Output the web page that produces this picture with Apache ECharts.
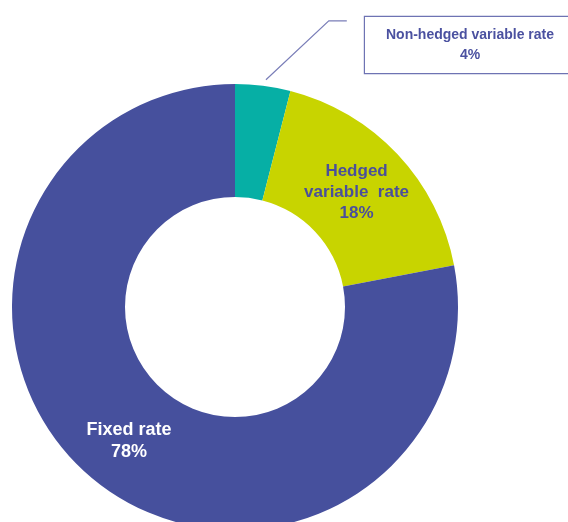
<!DOCTYPE html>
<html>
<head>
<meta charset="utf-8">
<script src="https://cdn.jsdelivr.net/npm/echarts@6/dist/echarts.min.js"></script>
<style>
html,body{margin:0;padding:0;background:#fff;}
#chart{width:568px;height:522px;}
</style>
</head>
<body>
<div id="chart"></div>
<script>
const categories = ['Non-hedged variable rate', 'Hedged\nvariable  rate', 'Fixed rate'];
const values = [4, 18, 78];
const colors = ['#06AFA5', '#C8D400', '#46509D'];

const chart = echarts.init(document.getElementById('chart'), null, {renderer: 'canvas'});

const data = categories.map((c, i) => {
  const item = { name: c, value: values[i], itemStyle: { color: colors[i] } };
  if (i === 0) {
    item.label = {
      position: 'outside',
      formatter: '{b}\n{c}%',
      color: '#4B51A0',
      fontSize: 14,
      fontWeight: 'bold',
      lineHeight: 20,
      width: 190,
      align: 'center',
      padding: [5, 10, 11, 10],
      borderColor: '#6E73B3',
      borderWidth: 1.2,
      backgroundColor: '#fff'
    };
    item.labelLine = { show: true, length: 70, length2: 18, lineStyle: { color: '#7A7EB8', width: 1.2 } };
  } else if (i === 1) {
    item.label = {
      position: 'inside',
      formatter: '{b}\n{c}%',
      color: '#4A4F9B',
      fontSize: 17,
      fontWeight: 'bold',
      lineHeight: 21,
      align: 'center',
      offset: [-2, 1]
    };
    item.labelLine = { show: false };
  } else {
    item.label = {
      position: 'inside',
      formatter: '{b}\n{c}%',
      color: '#FFFFFF',
      fontSize: 18,
      fontWeight: 'bold',
      lineHeight: 22,
      align: 'center',
      offset: [2, 3]
    };
    item.labelLine = { show: false };
  }
  return item;
});

chart.setOption({
  animation: false,
  textStyle: { fontFamily: 'Liberation Sans, Arial, sans-serif' },
  series: [{
    type: 'pie',
    center: [235, 307],
    radius: [110, 223],
    startAngle: 90,
    clockwise: true,
    avoidLabelOverlap: false,
    silent: true,
    data: data,
    labelLayout: function (params) {
      if (params.dataIndex === 0) {
        const lp = params.labelLinePoints;
        const r = params.labelRect;
        const out = { x: 470, y: 45, align: 'center', verticalAlign: 'middle' };
        if (lp && lp.length) {
          const left = 470 - r.width / 2;
          const top = 45 - r.height / 2;
          out.labelLinePoints = [
            [lp[0][0] + 3, lp[0][1] - 6],
            [left - 35, top + 5],
            [left - 17, top + 5]
          ];
        }
        return out;
      }
      return {};
    }
  }]
});
</script>
</body>
</html>
